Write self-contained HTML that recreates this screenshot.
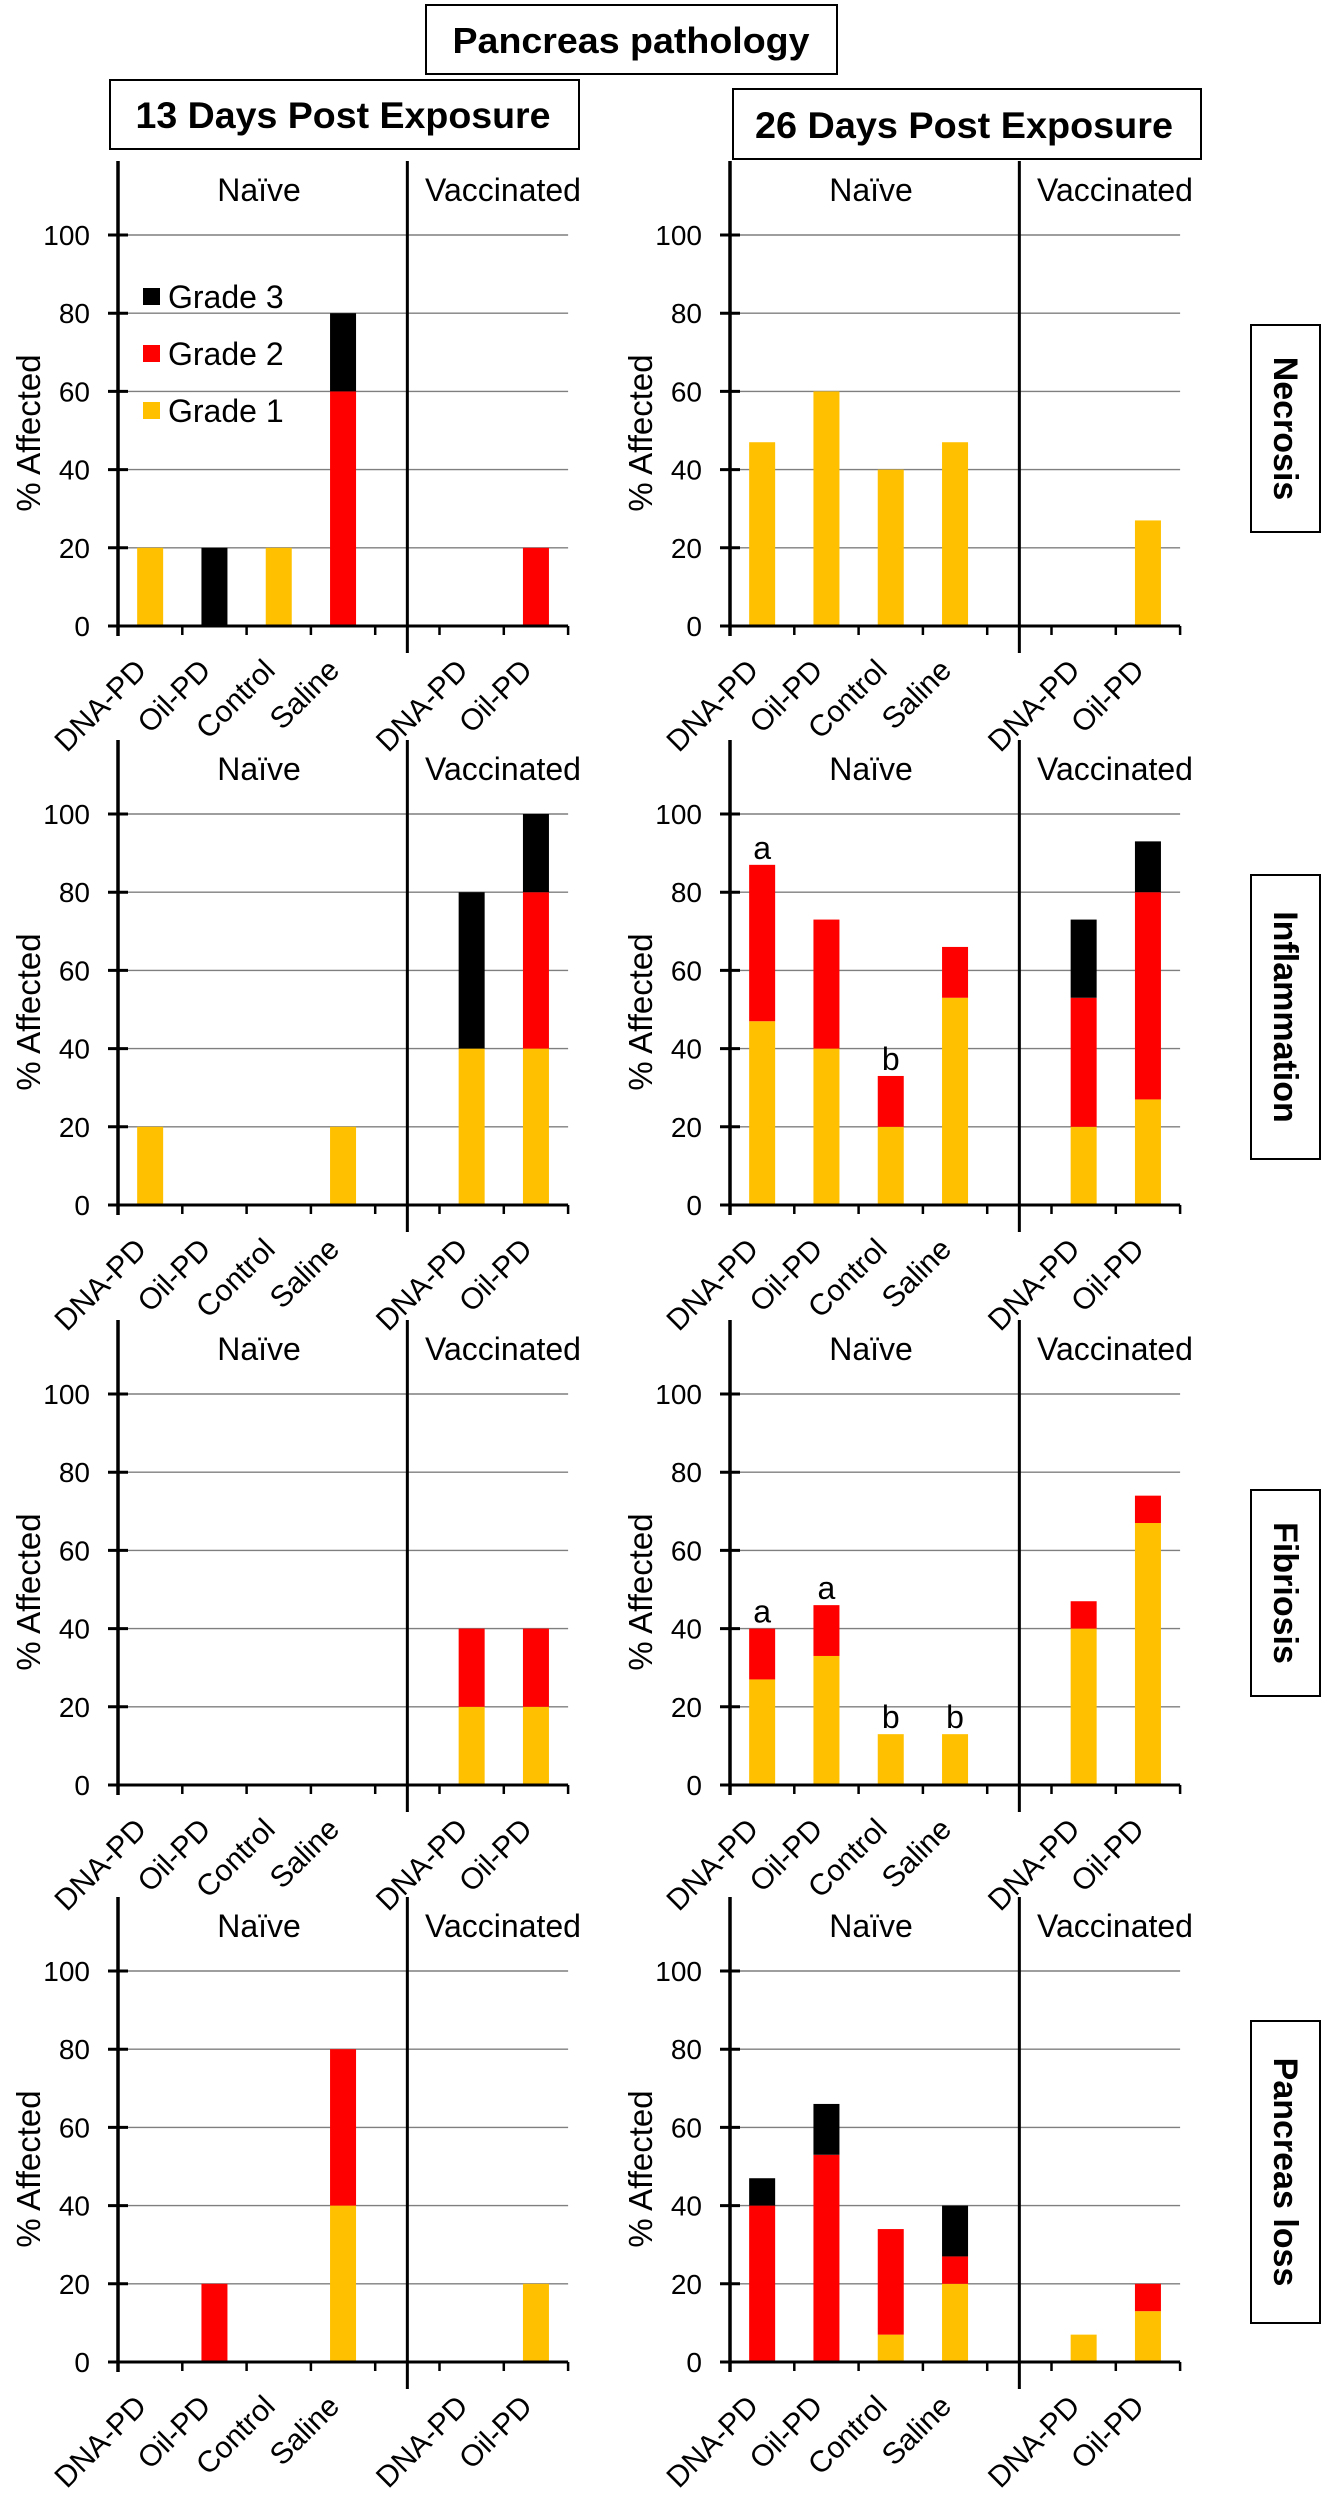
<!DOCTYPE html>
<html><head><meta charset="utf-8"><style>
html,body{margin:0;padding:0;background:#fff;}
svg{display:block;font-family:"Liberation Sans",Arial,sans-serif;}
</style></head><body>
<svg id="fig" width="1330" height="2500" viewBox="0 0 1330 2500" xmlns="http://www.w3.org/2000/svg">
<g>
<rect x="426" y="5" width="411" height="69" fill="#fff" stroke="#000" stroke-width="2"/>
<text x="631" y="53" text-anchor="middle" font-size="36" font-weight="bold" textLength="357" lengthAdjust="spacingAndGlyphs">Pancreas pathology</text>
<rect x="110" y="80" width="469" height="69" fill="#fff" stroke="#000" stroke-width="2"/>
<text x="343" y="128" text-anchor="middle" font-size="37" font-weight="bold" textLength="415" lengthAdjust="spacingAndGlyphs">13 Days Post Exposure</text>
<rect x="733" y="89" width="468" height="70" fill="#fff" stroke="#000" stroke-width="2"/>
<text x="964" y="138" text-anchor="middle" font-size="37" font-weight="bold" textLength="418" lengthAdjust="spacingAndGlyphs">26 Days Post Exposure</text>
</g>
<g id="charts"></g>
</svg>
<script>
// ---- data ----
const categories = ["DNA-PD","Oil-PD","Control","Saline","DNA-PD","Oil-PD"];
const groups = ["Naïve","Vaccinated"];
const yTicks = [0,20,40,60,80,100];
const rowNames = ["Necrosis","Inflammation","Fibriosis","Pancreas loss"];
const legendLabels = ["Grade 3","Grade 2","Grade 1"];
// 13 days
const nec13_g1 = [20,0,20,0,0,0];
const nec13_g2 = [0,0,0,60,0,20];
const nec13_g3 = [0,20,0,20,0,0];
const inf13_g1 = [20,0,0,20,40,40];
const inf13_g2 = [0,0,0,0,0,40];
const inf13_g3 = [0,0,0,0,40,20];
const fib13_g1 = [0,0,0,0,20,20];
const fib13_g2 = [0,0,0,0,20,20];
const fib13_g3 = [0,0,0,0,0,0];
const los13_g1 = [0,0,0,40,0,20];
const los13_g2 = [0,20,0,40,0,0];
const los13_g3 = [0,0,0,0,0,0];
// 26 days
const nec26_g1 = [47,60,40,47,0,27];
const nec26_g2 = [0,0,0,0,0,0];
const nec26_g3 = [0,0,0,0,0,0];
const inf26_g1 = [47,40,20,53,20,27];
const inf26_g2 = [40,33,13,13,33,53];
const inf26_g3 = [0,0,0,0,20,13];
const fib26_g1 = [27,33,13,13,40,67];
const fib26_g2 = [13,13,0,0,7,7];
const fib26_g3 = [0,0,0,0,0,0];
const los26_g1 = [0,0,7,20,7,13];
const los26_g2 = [40,53,27,7,0,7];
const los26_g3 = [7,13,0,13,0,0];
const inf26_letters = ["a","","b","","",""];
const fib26_letters = ["a","a","b","b","",""];

const panels = [
 [[nec13_g1,nec13_g2,nec13_g3,null],[nec26_g1,nec26_g2,nec26_g3,null]],
 [[inf13_g1,inf13_g2,inf13_g3,null],[inf26_g1,inf26_g2,inf26_g3,inf26_letters]],
 [[fib13_g1,fib13_g2,fib13_g3,null],[fib26_g1,fib26_g2,fib26_g3,fib26_letters]],
 [[los13_g1,los13_g2,los13_g3,null],[los26_g1,los26_g2,los26_g3,null]]
];

// ---- layout ----
const NS = "http://www.w3.org/2000/svg";
const root = document.getElementById("charts");
const rowY0 = [626,1205,1785,2362];
const colX0 = [118,730];
const slotW = 64.3, plotH = 391, barW = 26;
const colors = ["#FFC000","#FF0000","#000000"];
const labelBoxes = [[325,532],[875,1159],[1490,1696],[2021,2323]];

function mk(tag, attrs, parent){
  const e = document.createElementNS(NS, tag);
  for (const k in attrs) e.setAttribute(k, attrs[k]);
  (parent||root).appendChild(e);
  return e;
}
function slotOf(i){ return i < 4 ? i : i + 1; }

for (let r=0; r<4; r++){
  const y0 = rowY0[r];
  const yS = v => y0 - v/100*plotH;
  for (let c=0; c<2; c++){
    const x0 = colX0[c];
    const xC = i => x0 + (slotOf(i)+0.5)*slotW;
    const xEnd = x0 + 7*slotW;
    const xDiv = x0 + 4.5*slotW;
    const g = mk("g", {});
    
    
    yTicks.forEach(t => {
      if (t===0) return;
      const gl = mk("line", {x1:x0, x2:xEnd, y1:yS(t), y2:yS(t), stroke:"#7f7f7f", "stroke-width":1.4}, g);
      
      
    });
    const [g1,g2,g3,letters] = panels[r][c];
    const series = [g1,g2,g3];
    categories.forEach((cat,i) => {
      let base = 0;
      series.forEach((s,k) => {
        const v = s[i];
        if (v > 0){
          const b = mk("rect", {x:xC(i)-barW/2, y:yS(base+v), width:barW, height:yS(base)-yS(base+v), fill:colors[k]}, g);
          
          
        }
        base += v;
      });
      if (letters && letters[i]){
        const lt = mk("text", {x:xC(i), y:yS(base)-6, "text-anchor":"middle", "font-size":32}, g);
        lt.textContent = letters[i];
        
        
      }
      const xl = mk("text", {x:0, y:0, "text-anchor":"end", "font-size":30, transform:`translate(${xC(i)-2},${y0+46}) rotate(-45)`}, g);
      xl.textContent = cat;
      
      
    });
    const xa = mk("line", {x1:x0, x2:xEnd, y1:y0, y2:y0, stroke:"#000", "stroke-width":3}, g);
    
    
    for (let s=1; s<=7; s++){
      const tk = mk("line", {x1:x0+s*slotW, x2:x0+s*slotW, y1:y0, y2:y0+9, stroke:"#000", "stroke-width":2.5}, g);
      
      
    }
    const ya = mk("line", {x1:x0, x2:x0, y1:y0-465, y2:y0+10, stroke:"#000", "stroke-width":3.5}, g);
    
    
    yTicks.forEach(t => {
      const tk = mk("line", {x1:x0-10, x2:x0+10, y1:yS(t), y2:yS(t), stroke:"#000", "stroke-width":3}, g);
      
      
      const tl = mk("text", {x:x0-28, y:yS(t)+10, "text-anchor":"end", "font-size":28}, g);
      tl.textContent = t;
      
      
    });
    const yt = mk("text", {x:0, y:0, "text-anchor":"middle", "font-size":33, transform:`translate(${x0-78},${y0-193}) rotate(-90)`}, g);
    yt.textContent = "% Affected";
    
    
    const dv = mk("line", {x1:xDiv, x2:xDiv, y1:y0-465, y2:y0+27, stroke:"#000", "stroke-width":3}, g);
    
    
    const gn = mk("text", {x:x0+141, y:y0-425, "text-anchor":"middle", "font-size":32}, g);
    gn.textContent = groups[0];
    
    
    const gv = mk("text", {x:x0+385, y:y0-425, "text-anchor":"middle", "font-size":32}, g);
    gv.textContent = groups[1];
    
    
  }
  const [bt,bb] = labelBoxes[r];
  const rb = mk("rect", {x:1251, y:bt, width:69, height:bb-bt, fill:"#fff", stroke:"#000", "stroke-width":2});
  
  
  const rt = mk("text", {x:0, y:0, "text-anchor":"middle", "font-size":34, "font-weight":"bold", transform:`translate(${1274},${(bt+bb)/2}) rotate(90)`});
  rt.textContent = rowNames[r];
  
  
}

const lg = mk("g", {});


const legY = [297,354,411];
const legColors = ["#000000","#FF0000","#FFC000"];
legendLabels.forEach((lab,i) => {
  const sw = mk("rect", {x:143, y:legY[i]-9, width:17, height:17, fill:legColors[i]}, lg);
  
  
  const tx = mk("text", {x:168, y:legY[i]+11, "font-size":32}, lg);
  tx.textContent = lab;
  
  
});
</script>
</body></html>
